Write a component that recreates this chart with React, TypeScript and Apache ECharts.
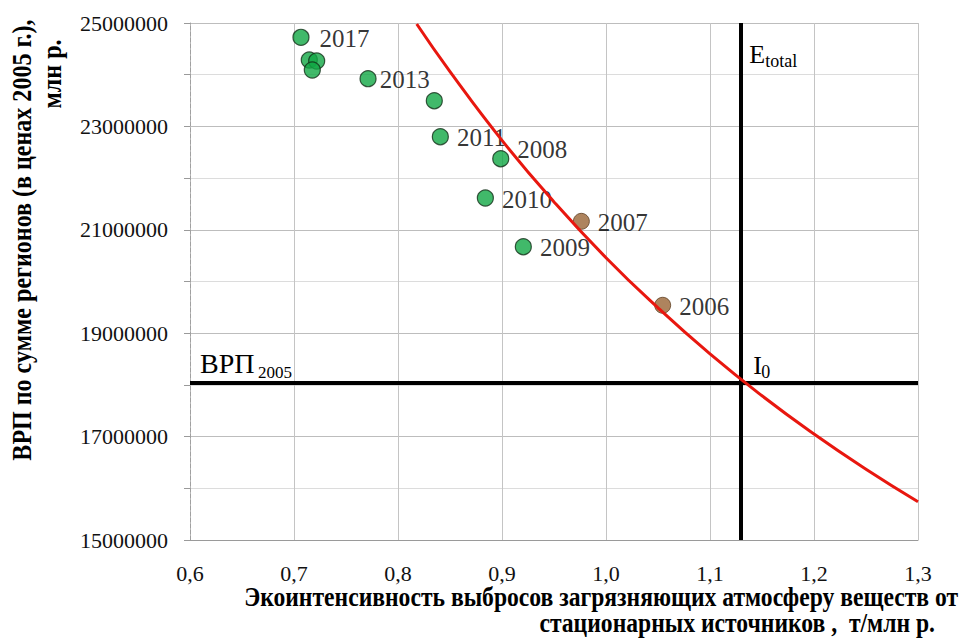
import React, { useEffect, useRef } from "react";
import * as echarts from "echarts";

// Axis ranges
const X_MIN = 0.6;
const X_MAX = 1.3;
const Y_MIN = 15000000;
const Y_MAX = 25000000;

// Reference levels
const E_TOTAL = 1.134;
const BRP_2005 = 18040000;

// Green points (recent years)
const greenX = [0.7067, 0.7147, 0.7218, 0.7176, 0.7712, 0.8349, 0.8407, 0.8988, 0.884, 0.9205];
const greenY = [24723000, 24284000, 24265000, 24091000, 23923000, 23497000, 22801000, 22375000, 21615000, 20673000];
const greenYears = ["2017", "", "", "", "2013", "", "2011", "2008", "2010", "2009"];

// Brown points (years above the iso-curve)
const brownX = [0.9763, 1.0545];
const brownY = [21164000, 19540000];
const brownYears = ["2007", "2006"];

// Red iso-curve through I0
const curveX = [0.818, 0.85, 0.9, 0.95, 1.0, 1.05, 1.1, 1.15, 1.2, 1.25, 1.3];
const curveY = [24980000, 24060000, 22730000, 21540000, 20460000, 19490000, 18600000, 17790000, 17050000, 16370000, 15740000];

const SERIF = "Liberation Serif";

const labelTweaks: Record<string, any> = {
  "2017": { distance: 10 },
  "2013": { distance: 3 },
  "2008": { offset: [0, -9] },
};

function pointData(xs: number[], ys: number[], names: string[]) {
  return xs.map((x, i) => {
    const name = names[i];
    return {
      value: [x, ys[i]],
      name,
      label: { show: name !== "", offset: [0, 1], ...(labelTweaks[name] || {}) },
    };
  });
}

export default function App() {
  const ref = useRef<HTMLDivElement>(null);

  useEffect(() => {
    if (!ref.current) return;
    const chart = echarts.init(ref.current, null, { renderer: "svg" });

    const pointLabel = {
      show: true,
      position: "right",
      distance: 8,
      fontSize: 25,
      fontFamily: SERIF,
      color: "#000",
      formatter: (p: any) => p.name,
    };

    chart.setOption({
      animation: false,
      backgroundColor: "#ffffff",
      textStyle: { fontFamily: SERIF },
      grid: { left: 190, right: 45, top: 23, bottom: 99, containLabel: false },
      xAxis: {
        type: "value",
        min: X_MIN,
        max: X_MAX,
        interval: 0.1,
        axisLine: { show: true, lineStyle: { color: "#9a9a9a", width: 1 } },
        axisTick: { show: false },
        axisLabel: {
          margin: 22,
          fontSize: 22,
          fontFamily: SERIF,
          color: "#111",
          formatter: (v: number) => v.toFixed(1).replace(".", ","),
        },
        splitLine: { show: true, lineStyle: { color: "#c4c4c4", width: 1 } },
      },
      yAxis: {
        type: "value",
        min: Y_MIN,
        max: Y_MAX,
        interval: 1000000,
        axisLine: { show: true, lineStyle: { color: "#a0a0a0", width: 1, type: "dashed" } },
        axisTick: { show: true, length: 6, lineStyle: { color: "#9a9a9a" } },
        axisLabel: {
          margin: 22,
          fontSize: 22,
          fontFamily: SERIF,
          color: "#111",
          formatter: (v: number) => (Math.round(v / 1000000) % 2 === 1 ? String(v) : ""),
        },
        splitLine: { show: true, lineStyle: { color: ["#bdbdbd", "#dcdcdc"], width: 1 } },
      },
      series: [
        {
          type: "scatter",
          data: [],
          silent: true,
          markLine: {
            silent: true,
            symbol: "none",
            label: { show: false },
            lineStyle: { color: "#000", width: 4, type: "solid" },
            data: [{ xAxis: E_TOTAL }, { yAxis: BRP_2005 }],
          },
        },
        {
          type: "scatter",
          symbolSize: 16,
          itemStyle: { color: "#12a845", borderColor: "#123018", borderWidth: 1.2 },
          label: pointLabel,
          data: pointData(greenX, greenY, greenYears),
        },
        {
          type: "scatter",
          symbolSize: 16,
          itemStyle: { color: "#9a6536", borderColor: "#5e3f22", borderWidth: 1 },
          label: pointLabel,
          data: pointData(brownX, brownY, brownYears),
        },
        {
          type: "line",
          data: curveX.map((x, i) => [x, curveY[i]]),
          smooth: true,
          showSymbol: false,
          symbol: "none",
          lineStyle: { color: "#e8170f", width: 3 },
          z: 5,
        },
      ],
    });

    const [ex, by] = chart.convertToPixel({ gridIndex: 0 }, [E_TOTAL, BRP_2005]) as number[];
    const [gx0, gyTop] = chart.convertToPixel({ gridIndex: 0 }, [X_MIN, Y_MAX]) as number[];

    const txt = (x: number, y: number, text: string, fontSize: number) => ({
      type: "text",
      x,
      y,
      z: 100,
      style: {
        text,
        fontSize,
        fontFamily: SERIF,
        fill: "#000",
        align: "left",
        verticalAlign: "middle",
      },
    });

    const title = (x: number, y: number, text: string, align: string, rotated: boolean, scale: number) => ({
      type: "text",
      x,
      y,
      rotation: rotated ? Math.PI / 2 : 0,
      scaleX: scale,
      style: {
        text,
        fontSize: 27,
        fontWeight: "bold",
        fontFamily: SERIF,
        fill: "#000",
        align,
        verticalAlign: "middle",
      },
    });

    chart.setOption({
      graphic: [
        txt(ex + 4, gyTop + 31, "E", 26),
        txt(ex + 20, gyTop + 38, "total", 18),
        txt(gx0 + 10, by - 19, "ВРП", 28),
        txt(gx0 + 68, by - 10, "2005", 17),
        txt(ex + 8, by - 17, "I", 26),
        txt(ex + 16, by - 11, "0", 18),
        title(22, 240, "ВРП по сумме регионов (в ценах 2005 г.),", "center", true, 0.89),
        title(52, 74, "млн р.", "center", true, 0.89),
        title(958, 596, "Экоинтенсивность выбросов загрязняющих атмосферу веществ от", "right", false, 0.875),
        title(935, 622, "стационарных источников ,  т/млн р.", "right", false, 0.875),
      ],
    });

    return () => chart.dispose();
  }, []);

  return (
    <div
      ref={ref}
      style={{ position: "fixed", left: 0, top: 0, width: 963, height: 639, background: "#fff" }}
    />
  );
}
